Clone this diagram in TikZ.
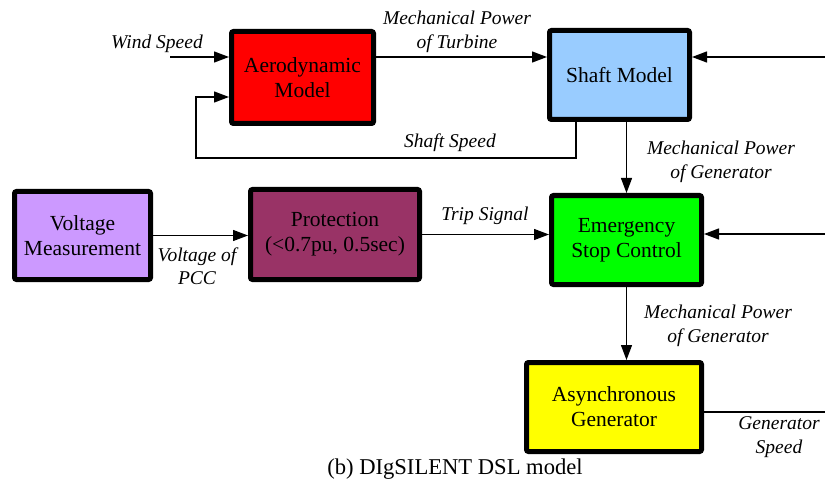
\documentclass[tikz,border=0pt]{standalone}
\usepackage{fontspec}
\setmainfont{Liberation Serif}
\usepackage{tikz}
\usetikzlibrary{arrows.meta,positioning}

\definecolor{aerored}{RGB}{255,0,0}
\definecolor{shaftblue}{RGB}{153,204,255}
\definecolor{vmlilac}{RGB}{204,153,255}
\definecolor{protplum}{RGB}{153,51,102}
\definecolor{escgreen}{RGB}{0,255,0}
\definecolor{genyellow}{RGB}{255,255,0}

\begin{document}
\begin{tikzpicture}[x=1pt,y=-1pt]
	  \tikzstyle{block}=[rectangle,draw=black,line width=5pt,rounded corners=2pt,
				  align=center,font=\fontsize{21.5}{25}\selectfont]
	  \tikzstyle{sig}=[line width=1.3pt,-{Triangle[length=15pt,width=11pt]}]
	  \tikzstyle{lbl}=[align=center,font=\fontsize{19.5}{23.5}\selectfont\itshape]

		\useasboundingbox (0,0) rectangle (825,492);

		\node[block,fill=aerored,minimum width=142pt,minimum height=92pt] (aero) at (302.5,77.5) {Aerodynamic\\Model};
		\node[block,fill=shaftblue,minimum width=140pt,minimum height=89pt] (shaft) at (619.5,75) {Shaft Model};
		\node[block,fill=vmlilac,minimum width=136pt,minimum height=88pt] (vm) at (82.5,235.5) {Voltage\\Measurement};
		\node[block,fill=protplum,minimum width=169pt,minimum height=90pt] (prot) at (335,234.5) {Protection\\(<0.7pu, 0.5sec)};
		\node[block,fill=escgreen,minimum width=150pt,minimum height=89pt] (esc) at (626.5,240) {Emergency\\Stop Control};
		\node[block,fill=genyellow,minimum width=175pt,minimum height=89pt] (gen) at (614,407) {Asynchronous\\Generator};

		% free ends
		\coordinate (wind) at (170,57);
		\coordinate (shin) at (825,57);
		\coordinate (escin) at (825,234);
		\coordinate (gsout) at (825,412);
		\coordinate (fbr) at (576,158);
		\coordinate (fbl) at (196,158);
		\coordinate (fbin) at (196,97);

		\draw[sig] (wind) -- (wind -| aero.west);
		\draw[sig] (aero.east |- wind) -- (shaft.west |- wind);
		\draw[sig] (shin) -- (shin -| shaft.east);
		\draw[sig] (fbr |- shaft.south) -- (fbr) -- (fbl) -- (fbin) -- (fbin -| aero.west);
		\draw[sig] (esc.north |- shaft.south) -- (esc.north);
		\draw[sig] (vm.east) -- (vm.east -| prot.west);
		\draw[sig] (prot.east) -- (prot.east -| esc.west);
		\draw[sig] (escin) -- (escin -| esc.east);
		\draw[sig] (esc.south) -- (esc.south |- gen.north);
		\draw[line width=1.3pt] (gen.east |- gsout) -- (gsout);

		\node[lbl] (l1) at (157,44) {Wind Speed};
		\node[lbl] (l2) at (457,32) {Mechanical Power\\of Turbine};
		\node[lbl] (l3) at (450,143) {Shaft Speed};
		\node[lbl] (l4) at (721,162) {Mechanical Power\\of Generator};
		\node[lbl] (l5) at (197,266) {Voltage of\\PCC};
		\node[lbl] (l6) at (485,216) {Trip Signal};
		\node[lbl] (l7) at (718,326) {Mechanical Power\\of Generator};
		\node[lbl] (l8) at (779,437) {Generator\\Speed};

		\node[font=\fontsize{22.6}{26}\selectfont] (cap) at (455,469) {(b) DIgSILENT DSL model};
\end{tikzpicture}
\end{document}
